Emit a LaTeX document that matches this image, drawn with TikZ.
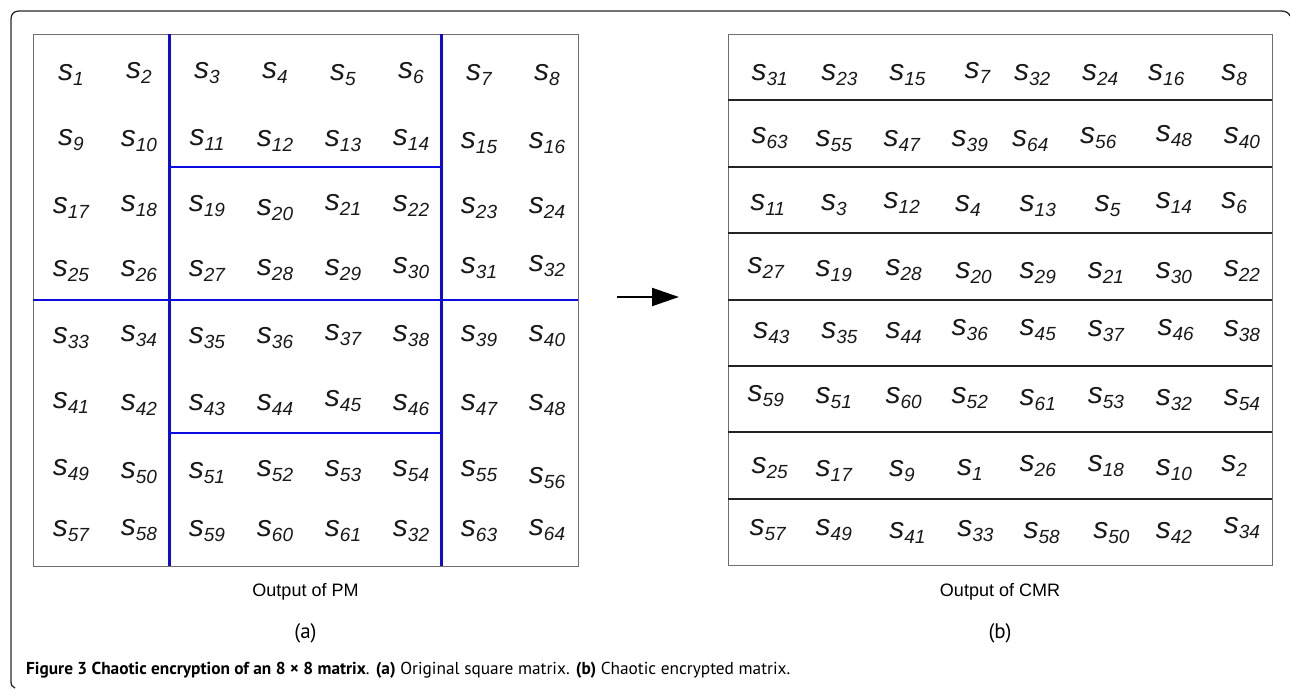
\documentclass[tikz,border=0pt]{standalone}
\usepackage{fontspec}
\setmainfont{Liberation Sans}
\newfontfamily\capfont{PT Sans}
\usetikzlibrary{arrows.meta}
\definecolor{mblue}{RGB}{12,12,225}
\definecolor{gridgray}{RGB}{110,110,110}
\definecolor{rowline}{RGB}{35,35,35}
\definecolor{framecol}{RGB}{40,40,40}
\newcommand{\sv}[1]{{\fontsize{30}{30}\selectfont\itshape s\raisebox{-5pt}{\fontsize{19}{19}\selectfont #1}}}
\begin{document}
\begin{tikzpicture}[x=1pt,y=-1pt,
  cell/.style={inner sep=0pt, anchor=base, text=black!90},
  boxline/.style={draw=gridgray, line width=1pt},
  blueline/.style={draw=mblue, line width=2.6pt},
  rowsep/.style={draw=rowline, line width=2pt},
  framestyle/.style={draw=framecol, line width=1.3pt},
  lbl/.style={inner sep=0pt, text=black}]
\useasboundingbox (0,0) rectangle (1290,688);

% outer frame
\draw[framestyle] (15,688) .. controls (12,687) and (11,685) .. (11,681) -- (11,19)
  .. controls (11,14) and (14,11) .. (19,11) -- (1281,11)
  .. controls (1286,11) and (1289,13) .. (1290,16);

% left matrix
\coordinate (LNW) at (33,34);
\coordinate (LSE) at (578,566);
\draw[boxline] (LNW) rectangle (LSE);
\draw[blueline] (169.25,34) -- (169.25,566);
\draw[blueline] (441.75,34) -- (441.75,566);
\draw[blueline] (33,300) -- (578,300);
\draw[blueline] (169.25,167) -- (441.75,167);
\draw[blueline] (169.25,433) -- (441.75,433);

\foreach \lab/\xx/\yy [count=\i] in {
 1/71/72, 2/139/70, 3/207/70, 4/275/70, 5/343/72, 6/411/70, 7/479/72, 8/547/72,
 9/71/137, 10/139/138, 11/207/137, 12/275/138, 13/343/138, 14/411/137, 15/479/140, 16/547/140,
 17/71/205, 18/139/203, 19/207/203, 20/275/207, 21/343/202, 22/411/203, 23/479/205, 24/547/205,
 25/71/268, 26/139/268, 27/207/268, 28/275/267, 29/343/267, 30/411/265, 31/479/265, 32/547/263,
 33/71/335, 34/139/333, 35/207/335, 36/275/335, 37/343/332, 38/411/333, 39/479/333, 40/547/333,
 41/71/400, 42/139/402, 43/207/402, 44/275/402, 45/343/398, 46/411/402, 47/479/402, 48/547/402,
 49/71/467, 50/139/470, 51/207/470, 52/275/468, 53/343/468, 54/411/468, 55/479/468, 56/547/475,
 57/71/528, 58/139/527, 59/207/528, 60/275/528, 61/343/528, 32/411/528, 63/479/528, 64/547/527}
  \node[cell] (L\i) at (\xx,\yy+8) {\sv{\lab}};

% right matrix
\coordinate (RNW) at (728,34);
\coordinate (RSE) at (1272,565);
\draw[boxline] (RNW) rectangle (RSE);
\foreach \k in {1,...,7}
  \draw[rowsep] (728,{34+66.4*\k}) -- (1272,{34+66.4*\k});

\foreach \lab/\dd/\yy [count=\i] in {
 31/190/72, 23/375/72, 15/555/72, 7/740/70, 32/885/72, 24/1065/72, 16/1240/72, 8/1420/72,
 63/190/135, 55/360/138, 47/540/138, 39/720/138, 64/880/138, 56/1060/135, 48/1260/133, 40/1440/135,
 11/185/202, 3/360/202, 12/540/200, 4/715/203, 13/900/203, 5/1085/203, 14/1260/200, 6/1420/200,
 27/180/265, 19/360/268, 28/545/267, 20/730/270, 29/900/270, 21/1080/270, 30/1260/270, 22/1440/268,
 43/195/330, 35/375/330, 44/545/330, 36/720/327, 45/900/327, 37/1080/328, 46/1265/327, 38/1440/328,
 59/180/393, 51/360/395, 60/545/395, 52/720/395, 61/900/397, 53/1080/395, 32/1260/397, 54/1440/397,
 25/190/465, 17/360/468, 9/540/468, 1/720/467, 26/900/463, 18/1080/463, 10/1260/467, 2/1420/463,
 57/185/527, 49/360/527, 41/555/530, 33/735/528, 58/910/530, 50/1095/530, 42/1260/530, 34/1440/525}
  \node[cell] (R\i) at ({728+0.3778*(\dd-80)},\yy+8) {\sv{\lab}};

% arrow
\coordinate (arrS) at (617,297);
\coordinate (arrE) at (679,297);
\draw[line width=2pt, -{Triangle[length=27pt,width=18pt]}] (arrS) -- (arrE);

% labels
\node[lbl] (outA) at (305.5,592) {\fontsize{18}{18}\selectfont Output of PM};
\node[lbl] (outB) at (1000,592) {\fontsize{18}{18}\selectfont Output of CMR};
\node[lbl] (subA) at (305.5,633) {\capfont\fontsize{21}{21}\selectfont (a)};
\node[lbl] (subB) at (1000,633) {\capfont\fontsize{21}{21}\selectfont (b)};

% caption
\node[lbl, anchor=west] (cap) at (26,670) {\capfont\fontsize{17.3}{17.3}\selectfont
  \textbf{Figure 3 Chaotic encryption of an 8 × 8 matrix}. \textbf{(a)} Original square matrix. \textbf{(b)} Chaotic encrypted matrix.};
\end{tikzpicture}
\end{document}
